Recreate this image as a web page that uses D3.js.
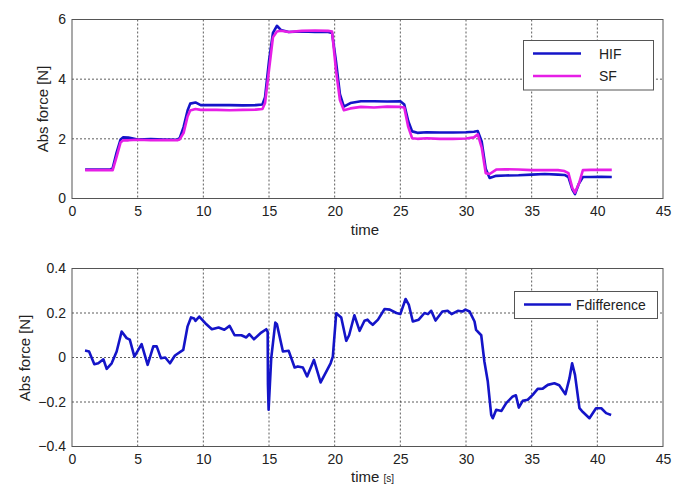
<!DOCTYPE html>
<html>
<head>
<meta charset="utf-8">
<script src="https://cdn.jsdelivr.net/npm/d3@7"></script>
<style>
  body { margin: 0; background: #fff; }
  svg text { font-family: Arial, "Liberation Sans", sans-serif; fill: #222; }
</style>
</head>
<body>
<script>
// data
const time = [1.0, 2.9, 3.1, 3.4, 3.7, 3.9, 4.3, 5, 6, 7, 8.0, 8.2, 8.5, 8.8, 9.0, 9.4, 9.8, 11, 12, 13, 14, 14.5, 14.7, 15.0, 15.3, 15.6, 15.9, 16.5, 17.5, 18.5, 19.5, 19.8, 20.1, 20.4, 20.7, 21.2, 22, 23, 24, 25.0, 25.3, 25.6, 25.9, 26.3, 27, 28, 29, 30, 30.6, 30.9, 31.2, 31.5, 31.8, 32.3, 33, 34, 35, 36, 37, 37.5, 37.8, 38.1, 38.3, 38.6, 38.9, 39.5, 40.3, 41.1]
const hif = [0.97, 0.97, 1.02, 1.55, 1.98, 2.05, 2.04, 1.98, 1.99, 1.98, 1.97, 2.02, 2.4, 2.95, 3.18, 3.22, 3.13, 3.13, 3.13, 3.12, 3.13, 3.15, 3.4, 4.6, 5.55, 5.79, 5.65, 5.58, 5.6, 5.58, 5.58, 5.55, 4.6, 3.5, 3.08, 3.2, 3.26, 3.26, 3.25, 3.26, 3.15, 2.6, 2.25, 2.2, 2.22, 2.21, 2.21, 2.22, 2.24, 2.26, 1.9, 1.0, 0.69, 0.76, 0.77, 0.78, 0.8, 0.82, 0.8, 0.79, 0.72, 0.3, 0.15, 0.5, 0.72, 0.72, 0.73, 0.72]
const sf = [0.95, 0.95, 0.95, 1.4, 1.88, 1.95, 1.95, 1.97, 1.95, 1.96, 1.95, 1.98, 2.2, 2.75, 2.95, 3.0, 2.97, 2.97, 2.96, 2.97, 2.98, 3.0, 3.2, 4.3, 5.4, 5.6, 5.62, 5.58, 5.62, 5.63, 5.62, 5.6, 4.3, 3.3, 2.96, 3.02, 3.07, 3.05, 3.08, 3.07, 3.05, 2.4, 2.02, 2.0, 2.02, 2.0, 2.0, 2.01, 2.05, 2.15, 1.7, 0.85, 0.82, 0.97, 0.98, 0.97, 0.95, 0.95, 0.95, 0.92, 0.85, 0.35, 0.2, 0.5, 0.95, 0.96, 0.96, 0.96]

const diffTime = [0.99, 1.3, 1.7, 2.0, 2.39, 2.64, 3.02, 3.4, 3.78, 4.16, 4.4, 4.75, 5.3, 5.76, 6.19, 6.45, 6.77, 7.1, 7.46, 7.84, 8.47, 8.8, 9.06, 9.3, 9.4, 9.69, 10.15, 10.65, 11.16, 11.6, 12.0, 12.38, 12.9, 13.27, 13.5, 13.85, 14.41, 14.79, 14.9, 14.92, 14.97, 15.17, 15.48, 15.6, 16.06, 16.5, 16.95, 17.2, 17.58, 17.9, 18.42, 18.93, 19.69, 19.86, 20.12, 20.5, 20.88, 21.1, 21.5, 21.9, 22.27, 22.5, 22.65, 22.9, 23.3, 23.8, 24.2, 24.7, 25.0, 25.4, 25.65, 25.95, 26.4, 26.84, 27.1, 27.35, 27.68, 28.2, 28.6, 28.9, 29.38, 29.75, 29.95, 30.27, 30.65, 30.77, 31.16, 31.4, 31.66, 31.92, 32.04, 32.3, 32.7, 33.06, 33.56, 33.8, 34.02, 34.32, 34.7, 35.08, 35.46, 35.84, 36.23, 36.73, 37.1, 37.57, 37.88, 38.08, 38.3, 38.64, 38.9, 39.4, 39.9, 40.3, 40.67, 41.05]
const fdiff = [0.031, 0.027, -0.03, -0.026, -0.008, -0.051, -0.026, 0.027, 0.117, 0.087, 0.08, 0.004, 0.06, -0.033, 0.05, 0.05, -0.003, 0.0, -0.026, 0.009, 0.034, 0.14, 0.18, 0.175, 0.165, 0.184, 0.154, 0.127, 0.135, 0.125, 0.142, 0.10, 0.10, 0.09, 0.105, 0.082, 0.112, 0.127, 0.115, -0.12, -0.235, -0.003, 0.157, 0.15, 0.027, 0.03, -0.045, -0.04, -0.045, -0.085, -0.011, -0.112, -0.026, 0.004, 0.199, 0.18, 0.075, 0.1, 0.19, 0.12, 0.165, 0.17, 0.16, 0.147, 0.17, 0.218, 0.215, 0.2, 0.195, 0.263, 0.236, 0.162, 0.17, 0.2, 0.195, 0.21, 0.166, 0.207, 0.21, 0.195, 0.21, 0.207, 0.215, 0.207, 0.162, 0.124, 0.10, -0.018, -0.108, -0.258, -0.273, -0.235, -0.24, -0.205, -0.175, -0.17, -0.225, -0.195, -0.19, -0.168, -0.141, -0.14, -0.123, -0.116, -0.125, -0.165, -0.093, -0.026, -0.078, -0.228, -0.245, -0.273, -0.228, -0.228, -0.25, -0.258]

const xTicks = [0, 5, 10, 15, 20, 25, 30, 35, 40, 45]
const topTicks = [0, 2, 4, 6]
const bottomTicks = [-0.4, -0.2, 0, 0.2, 0.4]

const W = 683, H = 495
const left = 72, right = 663

const svg = d3.select('body').append('svg')
    .attr('width', W)
    .attr('height', H)

const x = d3.scaleLinear().domain([0, 45]).range([left, right])

function panel(top, bottom, yScale, yTicks, fmt) {
    const g = svg.append('g')

    // grid
    g.selectAll('.vgrid')
        .data(xTicks.slice(1, -1))
        .enter().append('line')
        .attr('x1', d => x(d)).attr('x2', d => x(d))
        .attr('y1', top).attr('y2', bottom)
        .attr('stroke', '#333').attr('stroke-width', 0.8)
        .attr('stroke-dasharray', '2,2')
    g.selectAll('.hgrid')
        .data(yTicks.slice(1, -1))
        .enter().append('line')
        .attr('x1', left).attr('x2', right)
        .attr('y1', d => yScale(d)).attr('y2', d => yScale(d))
        .attr('stroke', '#333').attr('stroke-width', 0.8)
        .attr('stroke-dasharray', '2,2')

    // axes
    const xa = g.append('g')
        .attr('transform', 'translate(0,' + bottom + ')')
        .call(d3.axisBottom(x).tickValues(xTicks).tickSize(0).tickPadding(8))
    const ya = g.append('g')
        .attr('transform', 'translate(' + left + ',0)')
        .call(d3.axisLeft(yScale).tickValues(yTicks).tickSize(0).tickPadding(6).tickFormat(fmt))
    ;[xa, ya].forEach(a => {
        a.select('.domain').remove()
        a.selectAll('text').style('font-size', '14px').style('fill', '#222')
    })

    // box
    g.append('rect')
        .attr('x', left).attr('y', top)
        .attr('width', right - left).attr('height', bottom - top)
        .attr('fill', 'none').attr('stroke', '#555').attr('stroke-width', 1)
    return g
}

// top panel
const yTop = d3.scaleLinear().domain([0, 6]).range([198.5, 19.5])
panel(19.5, 198.5, yTop, topTicks, d3.format('d'))

const lineTop = (vals) => d3.line()
    .x((d, i) => x(time[i]))
    .y(d => yTop(d))(vals)

svg.append('path').attr('d', lineTop(hif))
    .attr('fill', 'none').attr('stroke', '#1414c8').attr('stroke-width', 2.6)
    .attr('stroke-linejoin', 'round')
svg.append('path').attr('d', lineTop(sf))
    .attr('fill', 'none').attr('stroke', '#e61ee6').attr('stroke-width', 2.6)
    .attr('stroke-linejoin', 'round')

svg.append('text').attr('x', 365).attr('y', 235)
    .attr('text-anchor', 'middle').style('font-size', '15px').text('time')
svg.append('text')
    .attr('transform', 'translate(48,109) rotate(-90)')
    .attr('text-anchor', 'middle').style('font-size', '15px').text('Abs force [N]')

// top legend
const lg = svg.append('g')
lg.append('rect').attr('x', 523.5).attr('y', 40.5).attr('width', 130).attr('height', 49.5)
    .attr('fill', '#fff').attr('stroke', '#555')
const topLegend = [['HIF', '#1414c8', 53.5], ['SF', '#e61ee6', 76]]
topLegend.forEach(([name, color, yy]) => {
    lg.append('line').attr('x1', 533).attr('x2', 581).attr('y1', yy).attr('y2', yy)
        .attr('stroke', color).attr('stroke-width', 2.6)
    lg.append('text').attr('x', 599).attr('y', yy + 5).style('font-size', '14px').text(name)
})

// bottom panel
const yBot = d3.scaleLinear().domain([-0.4, 0.4]).range([446.5, 268.5])
panel(268.5, 446.5, yBot, bottomTicks, d => d === 0 ? '0' : d3.format('.1f')(d))

const lineBot = d3.line()
    .x((d, i) => x(diffTime[i]))
    .y(d => yBot(d))
svg.append('path').attr('d', lineBot(fdiff))
    .attr('fill', 'none').attr('stroke', '#1414c8').attr('stroke-width', 2.6)
    .attr('stroke-linejoin', 'round')

const tl = svg.append('text').attr('x', 351).attr('y', 482).style('font-size', '15px')
tl.append('tspan').text('time ')
tl.append('tspan').style('font-size', '10px').text('[s]')
svg.append('text')
    .attr('transform', 'translate(30,358) rotate(-90)')
    .attr('text-anchor', 'middle').style('font-size', '15px').text('Abs force [N]')

// bottom legend
const lb = svg.append('g')
lb.append('rect').attr('x', 514.5).attr('y', 291.5).attr('width', 143).attr('height', 27)
    .attr('fill', '#fff').attr('stroke', '#555')
lb.append('line').attr('x1', 524).attr('x2', 571).attr('y1', 304.5).attr('y2', 304.5)
    .attr('stroke', '#1414c8').attr('stroke-width', 2.6)
lb.append('text').attr('x', 576).attr('y', 309.5).style('font-size', '14px').text('Fdifference')
</script>
</body>
</html>
